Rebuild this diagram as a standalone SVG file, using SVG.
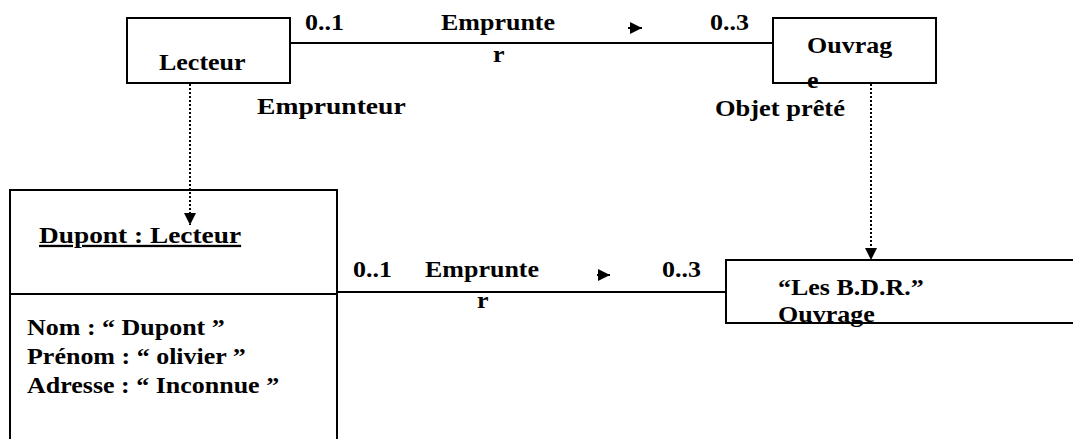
<svg xmlns="http://www.w3.org/2000/svg" width="1073" height="439" viewBox="0 0 1073 439">
<style>
.box{fill:#fff;stroke:#000;stroke-width:2}
.t{font-family:'Liberation Serif','Times New Roman',Times,serif;font-weight:700;font-size:23px;fill:#000}
.ln{stroke:#000;stroke-width:2;fill:none}
.dot{stroke:#000;stroke-width:2;fill:none;stroke-dasharray:2 2}
</style>
<defs>
<marker id="ah" viewBox="0 0 10 10" refX="10" refY="5" markerWidth="12" markerHeight="12" markerUnits="userSpaceOnUse" orient="auto">
<path d="M0,0 L10,5 L0,10 z" fill="#000"/>
</marker>
</defs>
<rect width="1073" height="439" fill="#fff"/>
<g id="lecteur">
<rect class="box" x="127" y="18" width="163" height="65"/>
<text class="t" transform="translate(159,70) scale(1.13,1)">Lecteur</text>
</g>
<g id="ouvrage">
<text class="t" transform="translate(807,53) scale(1.13,1)">Ouvrag</text>
<text class="t" transform="translate(807,88) scale(1.13,1)">e</text>
<rect x="773" y="18" width="163" height="65" fill="none" stroke="#000" stroke-width="2"/>
</g>
<g id="dupont">
<rect class="box" x="10" y="190" width="327" height="260"/>
<line class="ln" x1="10" y1="294" x2="337" y2="294"/>
<text class="t" text-decoration="underline" transform="translate(39,243) scale(1.19,1)">Dupont : Lecteur</text>
<text class="t" transform="translate(27,335) scale(1.13,1)">Nom : “ Dupont ”</text>
<text class="t" transform="translate(27,364) scale(1.13,1)">Prénom : “ olivier ”</text>
<text class="t" transform="translate(27,393) scale(1.13,1)">Adresse : “ Inconnue ”</text>
</g>
<g id="lesbdr">
<text class="t" transform="translate(778,295) scale(1.13,1)">“Les B.D.R.”</text>
<text class="t" transform="translate(778,322) scale(1.13,1)">Ouvrage</text>
<rect x="726" y="260" width="360" height="63" fill="none" stroke="#000" stroke-width="2"/>
</g>
<g id="connectors">
<line class="ln" x1="290" y1="43" x2="773" y2="43"/>
<line class="ln" x1="337" y1="292" x2="726" y2="292"/>
<line class="dot" x1="190" y1="84" x2="190" y2="225" marker-end="url(#ah)"/>
<line class="dot" x1="871" y1="84" x2="871" y2="260" marker-end="url(#ah)"/>
<line class="ln" x1="628" y1="28" x2="642" y2="28" marker-end="url(#ah)"/>
<line class="ln" x1="597" y1="275" x2="610" y2="275" marker-end="url(#ah)"/>
<text class="t" transform="translate(305,30) scale(1.13,1)">0..1</text>
<text class="t" transform="translate(441,30) scale(1.13,1)">Emprunte</text>
<text class="t" transform="translate(493,62) scale(1.13,1)">r</text>
<text class="t" transform="translate(710,30) scale(1.13,1)">0..3</text>
<text class="t" transform="translate(257,114) scale(1.2,1)">Emprunteur</text>
<text class="t" transform="translate(715,116) scale(1.15,1)">Objet prêté</text>
<text class="t" transform="translate(353,277) scale(1.13,1)">0..1</text>
<text class="t" transform="translate(425,277) scale(1.13,1)">Emprunte</text>
<text class="t" transform="translate(477,308) scale(1.13,1)">r</text>
<text class="t" transform="translate(662,277) scale(1.13,1)">0..3</text>
</g>
</svg>
